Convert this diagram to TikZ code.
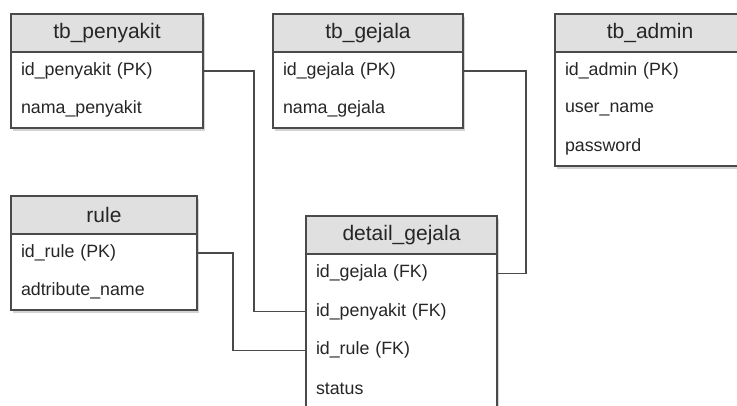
\documentclass[tikz,border=0pt]{standalone}
\usepackage{fontspec}
\setmainfont{Liberation Sans}
\usetikzlibrary{positioning,shadows,backgrounds}
\definecolor{linegray}{HTML}{4A4A4A}
\definecolor{headgray}{HTML}{E0E0E0}
\definecolor{txtgray}{HTML}{262626}
\begin{document}
\begin{tikzpicture}[x=1pt,y=-1pt,
	tblhead/.style={draw=linegray, fill=headgray, line width=1.3pt, outer sep=0pt, inner sep=0pt, anchor=north west, minimum height=38pt, text=txtgray, font=\fontsize{21}{24}\selectfont},
	tblrow/.style={outer sep=0pt, inner xsep=10pt, inner ysep=0pt, minimum height=38pt, text width=#1, align=left, text=txtgray, font=\fontsize{17.8}{20}\selectfont},
	tblframe/.style={draw=linegray, fill=white, line width=1.3pt, drop shadow={shadow xshift=2pt, shadow yshift=-2.5pt, opacity=0.35, fill=black!50}},
	link/.style={draw=linegray, line width=1.4pt},
	]
	\useasboundingbox (0,0) rectangle (737,405);
	%Nodes
	\node[tblhead, minimum width=192pt] (p0) at (11,14)  {tb\_penyakit};
	\node[tblrow=172pt] (p1) [below=0pt of p0] {id\_penyakit (PK)};
	\node[tblrow=172pt] (p2) [below=0pt of p1] {nama\_penyakit};
	
	\node[tblhead, minimum width=190pt] (g0) at (273,14) {tb\_gejala};
	\node[tblrow=170pt] (g1) [below=0pt of g0] {id\_gejala (PK)};
	\node[tblrow=170pt] (g2) [below=0pt of g1] {nama\_gejala};
	
	\node[tblhead, minimum width=190pt] (a0) at (555,14) {tb\_admin};
	\node[tblrow=170pt] (a1) [below=0pt of a0] {id\_admin (PK)};
	\node[tblrow=170pt] (a2) [below=0pt of a1] {user\_name};
	\node[tblrow=170pt] (a3) [below=0pt of a2] {password};
	
	\node[tblhead, minimum width=186pt] (r0) at (11,196) {rule};
	\node[tblrow=166pt] (r1) [below=0pt of r0] {id\_rule (PK)};
	\node[tblrow=166pt] (r2) [below=0pt of r1] {adtribute\_name};
	
	\node[tblhead, minimum width=191pt] (d0) at (306,216) {detail\_gejala};
	\node[tblrow=171pt, minimum height=38.5pt] (d1) [below=0pt of d0] {id\_gejala (FK)};
	\node[tblrow=171pt, minimum height=38.5pt] (d2) [below=0pt of d1] {id\_penyakit (FK)};
	\node[tblrow=171pt, minimum height=38.5pt] (d3) [below=0pt of d2] {id\_rule (FK)};
	\node[tblrow=171pt, minimum height=38.5pt] (d4) [below=0pt of d3] {status};
	
	%Frames
	\begin{scope}[on background layer]
		\path[tblframe] (p0.north west) rectangle (p2.south east);
		\path[tblframe] (g0.north west) rectangle (g2.south east);
		\path[tblframe] (a0.north west) rectangle (a3.south east);
		\path[tblframe] (r0.north west) rectangle (r2.south east);
		\path[tblframe] (d0.north west) rectangle (d4.south east);
	\end{scope}
	
	%Lines
	\draw[link] (p1.east) -- ++(51,0) |- (d2.west);
	\draw[link] (g1.east) -- ++(63,0) |- (d1.east);
	\draw[link] (r1.east) -- ++(36,0) |- (d3.west);
\end{tikzpicture}
\end{document}
